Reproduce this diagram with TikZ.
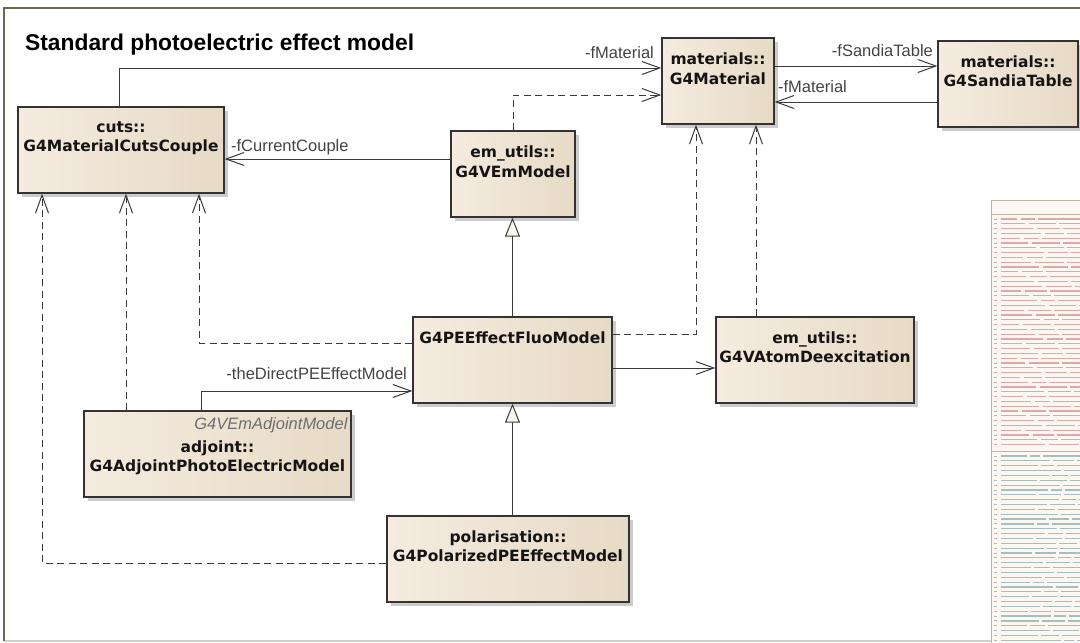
\documentclass[tikz,border=0pt]{standalone}
\usepackage{fontspec}
\setmainfont{Liberation Sans}
\newfontfamily\boxfont{DejaVu Sans}
\usetikzlibrary{arrows.meta,shadows,calc}

\definecolor{boxL}{HTML}{F5ECDF}
\definecolor{boxM}{HTML}{FBF6EE}
\definecolor{boxR}{HTML}{E7DAC6}
\definecolor{boxline}{HTML}{333333}
\definecolor{lineC}{HTML}{3A3A3A}
\definecolor{triFill}{HTML}{FAF6EE}
\definecolor{frameC}{HTML}{6E6850}
\definecolor{frameB}{HTML}{D0D0C8}
\definecolor{lblC}{HTML}{444444}
\definecolor{italC}{HTML}{6E6E6E}
\definecolor{sideFill}{HTML}{FCF7F0}
\definecolor{sideLine}{HTML}{BDB5A5}
\definecolor{attrC}{HTML}{DDA8A8}
\definecolor{methC}{HTML}{A6BEBE}

\begin{document}
\begin{tikzpicture}[x=1pt,y=-1pt,
  cls/.style={rectangle, draw=boxline, line width=1.3pt, inner sep=0pt,
    left color=boxL, middle color=boxM, right color=boxR,
    drop shadow={shadow xshift=4pt, shadow yshift=-4pt, fill=black!20, opacity=1}},
  clstext/.style={font=\boxfont\bfseries\fontsize{15.5}{19.5}\selectfont, align=center, inner sep=0pt, text=black!92},
  lbl/.style={font=\fontsize{16.5}{18}\selectfont, text=lblC, inner sep=0pt},
  ital/.style={font=\itshape\fontsize{16.5}{18}\selectfont, text=italC, inner sep=0pt},
  assoc/.style={draw=lineC, line width=1pt, -{Straight Barb[length=18pt,width=13pt,line width=1pt]}},
  dep/.style={assoc, dash pattern=on 7pt off 4.5pt},
  gen/.style={draw=lineC, line width=1pt, -{Triangle[length=19pt,width=15pt,fill=triFill,line width=1pt]}},
  attrLine/.style={draw=attrC, line width=1.2pt},
  methLine/.style={draw=methC, line width=1.2pt},
]
\useasboundingbox (0,0) rectangle (1080,643);
\fill[white] (0,0) rectangle (1080,643);

% frame
\draw[frameB, line width=1.5pt] (4,641) -- (1080,641);
\draw[frameC, line width=1.6pt] (1080,8) -- (4,8) -- (4,641);

% title
\node[anchor=base west, inner sep=0pt, font=\bfseries\fontsize{22.8}{26}\selectfont] (title) at (25,50) {Standard photoelectric effect model};

% class boxes
\node[cls, minimum width=206pt, minimum height=86pt] (cuts) at (121,150) {};
\node[cls, minimum width=112pt, minimum height=86pt] (mat) at (718,81) {};
\node[cls, minimum width=140pt, minimum height=86pt] (sandia) at (1008,84) {};
\node[cls, minimum width=124pt, minimum height=86pt] (vem) at (513,174) {};
\node[cls, minimum width=199pt, minimum height=86pt] (fluo) at (512.5,360) {};
\node[cls, minimum width=198pt, minimum height=86pt] (atom) at (815,360) {};
\node[cls, minimum width=267pt, minimum height=86pt] (adj) at (217.5,454) {};
\node[cls, minimum width=242pt, minimum height=86pt] (pol) at (508,559) {};

% class texts
\node[clstext] (cuts-t) at ([yshift=-32pt]cuts.north) {cuts::\\G4MaterialCutsCouple};
\node[clstext] (mat-t) at ([yshift=-31.5pt]mat.north) {materials::\\G4Material};
\node[clstext] (sandia-t) at ([yshift=-31pt]sandia.north) {materials::\\G4SandiaTable};
\node[clstext] (vem-t) at ([yshift=-31.5pt]vem.north) {em\_utils::\\G4VEmModel};
\node[clstext] (fluo-t) at ([yshift=-21pt]fluo.north) {G4PEEffectFluoModel};
\node[clstext] (atom-t) at ([yshift=-31pt]atom.north) {em\_utils::\\G4VAtomDeexcitation};
\node[ital, anchor=base east] (adj-s) at ([xshift=-4pt,yshift=-19pt]adj.north east) {G4VEmAdjointModel};
\node[clstext] (adj-t) at ([yshift=-47.5pt]adj.north) {adjoint::\\G4AdjointPhotoElectricModel};
\node[clstext] (pol-t) at ([yshift=-31pt]pol.north) {polarisation::\\G4PolarizedPEEffectModel};

% associations
\draw[assoc] ([xshift=-2pt]cuts.north) |- (mat.west |- 0,68)
  node[lbl, pos=1, anchor=base east, xshift=-7pt, yshift=10pt] {-fMaterial};
\draw[assoc] (vem.west |- 0,159) -- (cuts.east |- 0,159)
  node[lbl, pos=1, anchor=base west, xshift=6pt, yshift=8pt] {-fCurrentCouple};
\draw[assoc] (mat.east |- 0,66) -- (sandia.west |- 0,66)
  node[lbl, pos=1, anchor=base east, xshift=-4pt, yshift=10pt] {-fSandiaTable};
\draw[assoc] (sandia.west |- 0,102) -- (mat.east |- 0,102)
  node[lbl, pos=1, anchor=base west, xshift=3pt, yshift=10pt] {-fMaterial};
\draw[assoc] (fluo.east |- 0,368) -- (atom.west |- 0,368);
\draw[assoc] (adj.north -| 201,0) |- (fluo.west |- 0,391)
  node[lbl, pos=1, anchor=base east, xshift=-5pt, yshift=12pt] {-theDirectPEEffectModel};

% dependencies
\draw[dep] (vem.north) |- (mat.west |- 0,95);
\draw[dep] (fluo.east |- 0,334) -| (mat.south -| 696,0);
\draw[dep] (atom.north -| 756,0) -- (mat.south -| 756,0);
\draw[dep] (fluo.west |- 0,343) -| (cuts.south -| 199,0);
\draw[dep] (adj.north -| 126,0) -- (cuts.south -| 126,0);
\draw[dep] (pol.west |- 0,563) -| (cuts.south -| 42,0);

% generalizations
\draw[gen] (fluo.north) -- (fluo.north |- vem.south);
\draw[gen] (fluo.south |- pol.north) -- (fluo.south);

% cut-off class box at the right edge
\node[rectangle, draw=sideLine, fill=sideFill, line width=0.8pt, inner sep=0pt,
  anchor=north west, minimum width=100pt, minimum height=460pt] (side) at (991,200) {};
\draw[sideLine, line width=0.8pt] (side.west |- 0,214) -- (1080,214);
\draw[sideLine, line width=0.8pt] (side.west |- 0,451) -- (1080,451);
\foreach \i in {0,...,47}{
  \pgfmathsetmacro{\yy}{219+4.8*\i}
  \pgfmathsetmacro{\la}{16+mod(\i*37,29)}
  \pgfmathsetmacro{\lb}{14+mod(\i*13,17)}
  \draw[attrLine] (1001,\yy) -- ++(\la,0);
  \draw[attrLine] ({1005+\la},\yy) -- ++(\lb,0);
  \draw[attrLine] ({1008+\la+\lb},\yy) -- (1080,\yy);
  \draw[attrLine, line width=0.9pt] (994,\yy) -- (997,\yy);
}
\foreach \i in {0,...,38}{
  \pgfmathsetmacro{\yy}{456+4.85*\i}
  \pgfmathsetmacro{\la}{26+mod(\i*23,35)}
  \pgfmathsetmacro{\lb}{10+mod(\i*11,19)}
  \draw[methLine] (1001,\yy) -- ++(\la,0);
  \draw[methLine] ({1004+\la},\yy) -- ++(\lb,0);
  \draw[methLine] ({1007+\la+\lb},\yy) -- (1080,\yy);
  \draw[methLine, line width=0.9pt] (994,\yy) -- (997,\yy);
}
\end{tikzpicture}
\end{document}
